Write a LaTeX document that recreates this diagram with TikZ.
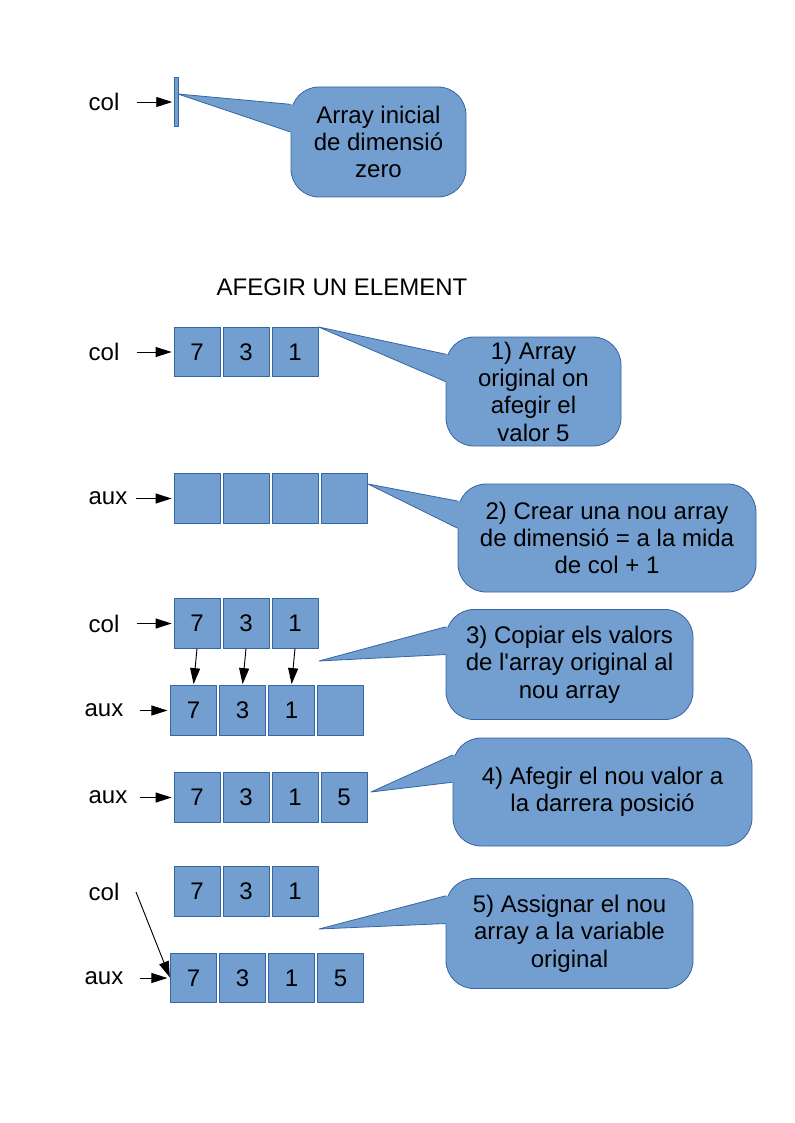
\documentclass[tikz,border=0pt]{standalone}
\usepackage{fontspec}
\setmainfont{Liberation Sans}[Ligatures=TeXOff]
\usetikzlibrary{arrows.meta,calc}
\definecolor{cellfill}{HTML}{729FCF}
\definecolor{celledge}{HTML}{3465A4}
\tikzset{
  cell/.style={draw=celledge,fill=cellfill,line width=0.6pt,minimum width=34.5pt,minimum height=37pt,inner sep=0pt},
  lbl/.style={inner sep=0pt},
  ptr/.style={-{Triangle[length=12pt,width=7.5pt]},line width=0.7pt},
  callbox/.style={draw=celledge,fill=cellfill,line width=0.6pt,rounded corners=21pt,align=center,inner sep=0pt},
  calledge/.style={draw=celledge,line width=0.6pt},
}
\newcommand{\callptr}[2]{%
  \fill[cellfill] (#2) -- ($(#1.north west)!0.16!(#1.south west)$)
    -- ($(#1.north west)!0.16!(#1.south west)+(2pt,0)$)
    -- ($(#1.north west)!0.41!(#1.south west)+(2pt,0)$)
    -- ($(#1.north west)!0.41!(#1.south west)$) -- cycle;
  \draw[calledge] ($(#1.north west)!0.16!(#1.south west)$) -- (#2)
    -- ($(#1.north west)!0.41!(#1.south west)$);
}
\begin{document}
\begin{tikzpicture}[x=0.75pt,y=-0.75pt,font=\fontsize{18}{20.5}\selectfont,line join=round]
  \useasboundingbox (0,0) rectangle (794,1123);

  \node[lbl] (l0) at (104,102) {col};
  \node[cell,minimum width=3pt] (bar) at (176,102) {};
  \draw[ptr,shorten <=13pt,shorten >=1pt] (l0) -- (bar);
  \node[callbox,minimum width=131.25pt,minimum height=82.5pt] (k0) at (378.5,142)
    {Array inicial\\de dimensió\\zero};
  \coordinate (t0) at (178,94);
  \callptr{k0}{t0}

  \node (title) at (342,287) {AFEGIR UN ELEMENT};

  \node[lbl] (lA) at (104,352) {col};
  \foreach \v [count=\i] in {7,3,1}
    \node[cell] (a\i) at ({148+49*\i},352) {\v};
  \draw[ptr,shorten <=13pt,shorten >=1.5pt] (lA) -- (a1);
  \node[callbox,minimum width=131.25pt,minimum height=81.75pt] (k1) at (533.5,391.5)
    {1) Array\\original on\\afegir el\\valor 5};
  \callptr{k1}{a3.north east}

  \node[lbl] (lB) at (108,498.5) {aux};
  \foreach \i in {1,...,4}
    \node[cell] (b\i) at ({148+49*\i},498.5) {};
  \draw[ptr,shorten <=6.4pt,shorten >=1.5pt] (lB) -- (b1);
  \node[callbox,minimum width=223.5pt,minimum height=81pt] (k2) at (607,538)
    {2) Crear una nou array\\de dimensió = a la mida\\de col + 1};
  \coordinate (t2) at (368,484);
  \callptr{k2}{t2}

  \node[lbl] (lC) at (104,623.5) {col};
  \foreach \v [count=\i] in {7,3,1}
    \node[cell] (c\i) at ({148+49*\i},623.5) {\v};
  \draw[ptr,shorten <=13pt,shorten >=1.5pt] (lC) -- (c1);
  \node[lbl] (lD) at (104,710.5) {aux};
  \foreach \v [count=\i] in {7,3,1,{}}
    \node[cell] (d\i) at ({144.5+49*\i},710.5) {\v};
  \draw[ptr,shorten <=12.4pt,shorten >=2pt] (lD) -- (d1);
  \foreach \i in {1,2,3}
    \draw[ptr,shorten >=1pt] (c\i.south) -- (d\i.north);
  \node[callbox,minimum width=185.25pt,minimum height=82.5pt] (k3) at (569.5,664.5)
    {3) Copiar els valors\\de l'array original al\\nou array};
  \coordinate (t3) at (319,661);
  \callptr{k3}{t3}

  \node[lbl] (lE) at (108,797.5) {aux};
  \foreach \v [count=\i] in {7,3,1,5}
    \node[cell] (e\i) at ({148+49*\i},797.5) {\v};
  \draw[ptr,shorten <=9.4pt,shorten >=1.5pt] (lE) -- (e1);
  \node[callbox,minimum width=224.25pt,minimum height=81pt] (k4) at (602.5,792)
    {4) Afegir el nou valor a\\la darrera posició};
  \coordinate (t4) at (371,792);
  \callptr{k4}{t4}

  \node[lbl] (lF) at (104,891.5) {col};
  \foreach \v [count=\i] in {7,3,1}
    \node[cell] (f\i) at ({148+49*\i},891.5) {\v};
  \node[lbl] (lG) at (104,978) {aux};
  \foreach \v [count=\i] in {7,3,1,5}
    \node[cell] (g\i) at ({144.5+49*\i},978) {\v};
  \draw[ptr,shorten <=12.4pt,shorten >=2pt] (lG) -- (g1);
  \coordinate (sF) at (136,892);
  \draw[ptr,shorten >=0.5pt] (sF) -- (g1.west);
  \node[callbox,minimum width=185.25pt,minimum height=82.5pt] (k5) at (569.5,933.5)
    {5) Assignar el nou\\array a la variable\\original};
  \coordinate (t5) at (319,929);
  \callptr{k5}{t5}
\end{tikzpicture}
\end{document}
